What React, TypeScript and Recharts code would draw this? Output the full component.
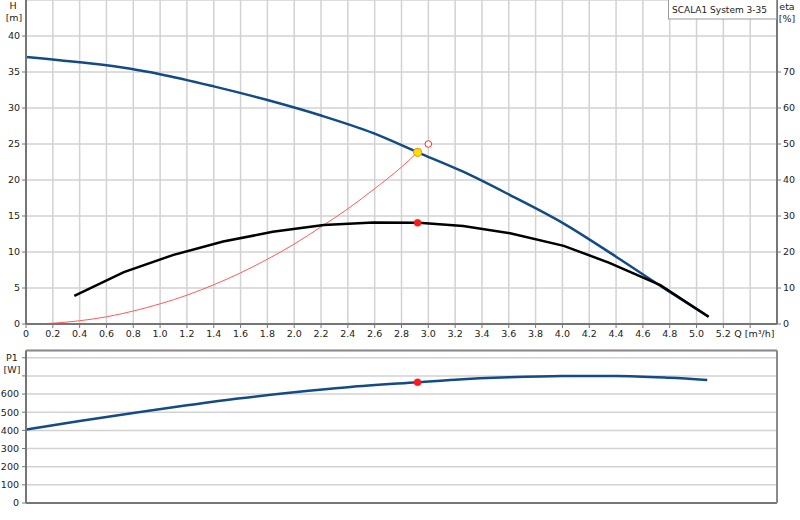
import React from 'react';
import { ComposedChart, Line, XAxis, YAxis, CartesianGrid, ReferenceLine } from 'recharts';

const qTicks = [0, 0.2, 0.4, 0.6, 0.8, 1.0, 1.2, 1.4, 1.6, 1.8, 2.0, 2.2, 2.4, 2.6, 2.8, 3.0, 3.2, 3.4, 3.6, 3.8, 4.0, 4.2, 4.4, 4.6, 4.8, 5.0, 5.2, 5.4];
const hTicks = [0, 5, 10, 15, 20, 25, 30, 35, 40];
const etaTicks = [0, 10, 20, 30, 40, 50, 60, 70];
const pTicks = [0, 100, 200, 300, 400, 500, 600, 700, 800];
const pLabelMax = 600;

const headQ = [0, 0.4, 0.78, 1.0, 1.4, 1.8, 2.2, 2.59, 2.92, 3.26, 3.61, 4.01, 4.4, 4.78, 5.09];
const headH = [37.1, 36.35, 35.45, 34.7, 33.0, 31.1, 28.95, 26.5, 23.85, 21.15, 17.9, 13.95, 9.35, 4.7, 1.0];

const etaQ = [0.36, 0.73, 1.1, 1.47, 1.84, 2.22, 2.59, 2.93, 3.26, 3.61, 4.01, 4.35, 4.73, 5.09];
const etaV = [7.8, 14.4, 19.2, 22.9, 25.6, 27.5, 28.2, 28.1, 27.2, 25.2, 21.7, 17.0, 10.8, 2.0];

const sysQ = [0, 0.2, 0.4, 0.6, 0.8, 1.0, 1.2, 1.4, 1.6, 1.8, 2.0, 2.2, 2.4, 2.6, 2.8, 2.92];
const sysH = [0, 0.11, 0.45, 1.0, 1.8, 2.8, 4.0, 5.45, 7.1, 9.0, 11.1, 13.5, 16.0, 18.8, 21.8, 23.85];

const p1Q = [0, 0.4, 0.8, 1.2, 1.6, 2.0, 2.4, 2.92, 3.2, 3.6, 4.0, 4.4, 4.8, 5.08];
const p1W = [405, 452, 496, 538, 577, 610, 638, 665, 679, 692, 699, 700, 690, 678];

const dutyPoint = { q: 2.92, h: 23.85, eta: 28.1, p: 665 };
const requestedPoint = { q: 3.0, h: 25 };

const title = 'SCALA1 System 3-35';

const headData = headQ.map((q, i) => ({ q, h: headH[i] }));
const etaData = etaQ.map((q, i) => ({ q, eta: etaV[i] }));
const sysData = sysQ.map((q, i) => ({ q, h: sysH[i] }));
const p1Data = p1Q.map((q, i) => ({ q, p: p1W[i] }));

const FONT = 'DejaVu Sans';
const TXT = '#222';
const AXIS = '#767676';
const GRID = '#d2d2d2';
const BLUE = '#134b87';

const XTick = (props: any) => {
  const { x, y, payload } = props;
  const v = payload.value;
  if (v === 5.4) {
    return (
      <text x={x - 16} y={y} dy="0.71em" textAnchor="start" fontFamily={FONT} fontSize={9.5} fill={TXT}>
        Q [m³/h]
      </text>
    );
  }
  return (
    <text x={x} y={y} dy="0.71em" textAnchor="middle" fontFamily={FONT} fontSize={9.5} fill={TXT}>
      {v === 0 ? '0' : v.toFixed(1)}
    </text>
  );
};

const tickStyle = { fontFamily: FONT, fontSize: 9.5, fill: TXT };

export default function App() {
  return (
    <div style={{ position: 'absolute', left: 0, top: 0, width: 800, height: 520, background: '#fff' }}>
      <div style={{ position: 'absolute', left: 0, top: 0 }}>
        <ComposedChart width={800} height={345} margin={{ top: 0, right: 0, bottom: 0, left: 0 }}>
          <CartesianGrid yAxisId="h" stroke={GRID} strokeWidth={1.5} />
          <XAxis
            type="number"
            dataKey="q"
            domain={[0, 5.6]}
            ticks={qTicks}
            height={21}
            allowDataOverflow
            axisLine={{ stroke: AXIS, strokeWidth: 2 }}
            tickLine={{ stroke: AXIS }}
            tickSize={4}
            tickMargin={2}
            tick={<XTick />}
            interval={0}
          />
          <YAxis
            yAxisId="h"
            type="number"
            domain={[0, 45]}
            ticks={hTicks}
            width={26}
            axisLine={{ stroke: AXIS, strokeWidth: 2 }}
            tickLine={{ stroke: AXIS }}
            tickSize={4}
            tickMargin={2}
            tick={tickStyle}
            interval={0}
          />
          <YAxis
            yAxisId="eta"
            orientation="right"
            type="number"
            domain={[0, 90]}
            ticks={etaTicks}
            width={23}
            axisLine={{ stroke: AXIS, strokeWidth: 2 }}
            tickLine={{ stroke: AXIS }}
            tickSize={4}
            tickMargin={2}
            tick={tickStyle}
            interval={0}
          />
          <Line yAxisId="h" data={sysData} dataKey="h" type="monotone" stroke="#ff5a5a" strokeWidth={1} dot={false} isAnimationActive={false} />
          <Line yAxisId="h" data={headData} dataKey="h" type="monotone" stroke={BLUE} strokeWidth={2.5} dot={false} isAnimationActive={false} />
          <Line yAxisId="eta" data={etaData} dataKey="eta" type="linear" stroke="#000" strokeWidth={2.5} dot={false} isAnimationActive={false} />
          <Line
            yAxisId="h"
            data={[requestedPoint]}
            dataKey="h"
            stroke="none"
            dot={{ r: 3.3, fill: '#fff', stroke: '#ff3030', strokeWidth: 1 }}
            isAnimationActive={false}
          />
          <Line
            yAxisId="h"
            data={[{ q: dutyPoint.q, h: dutyPoint.h }]}
            dataKey="h"
            stroke="none"
            dot={{ r: 4, fill: '#ffe100', stroke: '#f09a20', strokeWidth: 1.2 }}
            isAnimationActive={false}
          />
          <Line
            yAxisId="eta"
            data={[{ q: dutyPoint.q, eta: dutyPoint.eta }]}
            dataKey="eta"
            stroke="none"
            dot={{ r: 3.5, fill: '#ff1a1a', stroke: '#ff1a1a', strokeWidth: 0.5 }}
            isAnimationActive={false}
          />
        </ComposedChart>
      </div>
      <div style={{ position: 'absolute', left: 0, top: 345 }}>
        <ComposedChart width={800} height={175} margin={{ top: 5.5, right: 0, bottom: 0, left: 0 }}>
          <CartesianGrid yAxisId="p" stroke={GRID} strokeWidth={1.5} />
          <XAxis
            type="number"
            dataKey="q"
            domain={[0, 5.6]}
            ticks={qTicks}
            height={17}
            allowDataOverflow
            axisLine={{ stroke: AXIS, strokeWidth: 2 }}
            tickLine={false}
            tick={false}
            interval={0}
          />
          <YAxis
            yAxisId="p"
            type="number"
            domain={[0, 840]}
            ticks={pTicks}
            width={26}
            axisLine={{ stroke: AXIS, strokeWidth: 2 }}
            tickLine={{ stroke: AXIS }}
            tickSize={4}
            tickMargin={3}
            tick={tickStyle}
            tickFormatter={(v: number) => (v > pLabelMax ? '' : String(v))}
            interval={0}
          />
          <YAxis
            yAxisId="r"
            orientation="right"
            type="number"
            domain={[0, 840]}
            width={23}
            axisLine={{ stroke: '#8a8a8a', strokeWidth: 2 }}
            tickLine={false}
            tick={false}
          />
          <ReferenceLine yAxisId="p" y={840} stroke="#8a8a8a" strokeWidth={2} />
          <Line yAxisId="p" data={p1Data} dataKey="p" type="monotone" stroke={BLUE} strokeWidth={2.5} dot={false} isAnimationActive={false} />
          <Line
            yAxisId="p"
            data={[{ q: dutyPoint.q, p: dutyPoint.p }]}
            dataKey="p"
            stroke="none"
            dot={{ r: 3.5, fill: '#ff1a1a', stroke: '#ff1a1a', strokeWidth: 0.5 }}
            isAnimationActive={false}
          />
        </ComposedChart>
      </div>
      <svg width={800} height={520} style={{ position: 'absolute', left: 0, top: 0, pointerEvents: 'none' }}>
        <g fontFamily={FONT} fontSize={9.5} fill={TXT}>
          <text x={13} y={9} textAnchor="middle">H</text>
          <text x={14} y={21} textAnchor="middle">[m]</text>
          <text x={787} y={10} textAnchor="middle">eta</text>
          <text x={787} y={22} textAnchor="middle">[%]</text>
          <text x={12} y={361} textAnchor="middle">P1</text>
          <text x={12} y={373} textAnchor="middle">[W]</text>
        </g>
        <rect x={668.5} y={-1} width={108} height={20} fill="#fff" stroke="#9a9a9a" strokeWidth={1} />
        <text x={672} y={13} fontFamily={FONT} fontSize={9} fill={TXT}>{title}</text>
      </svg>
    </div>
  );
}
